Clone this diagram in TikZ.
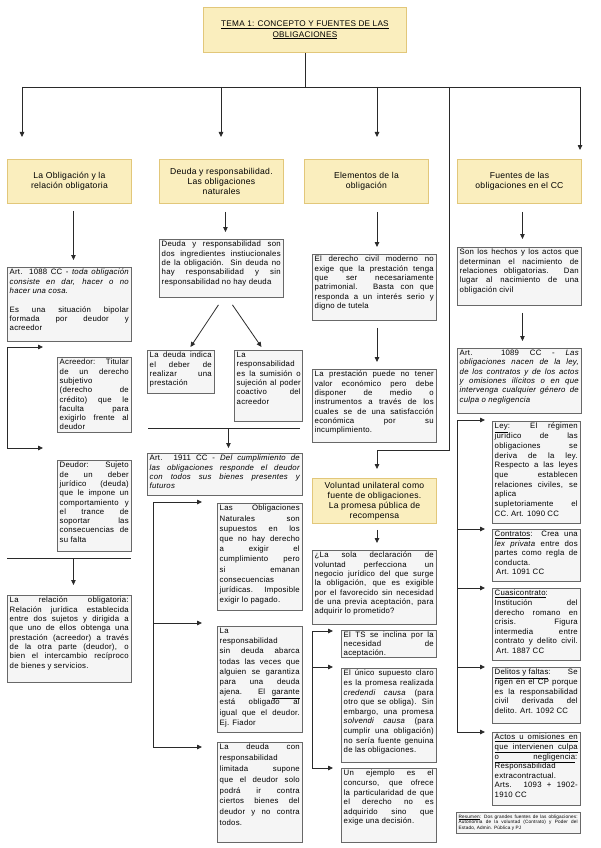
\documentclass[tikz,border=0pt]{standalone}
\usepackage{fontspec}
\setmainfont{Liberation Sans}[LetterSpace=3]
\usetikzlibrary{arrows.meta,calc}
\definecolor{ybf}{HTML}{FAEEBE}
\definecolor{ybd}{HTML}{E2C77A}
\definecolor{gbf}{HTML}{F5F5F5}
\definecolor{gbd}{HTML}{686868}
\definecolor{lnc}{HTML}{2A2A2A}
\newcommand\BR{\linebreak}
\newcommand\UL[1]{\underline{#1}}
\tolerance=10000 \hbadness=10000 \hfuzz=30pt \hyphenpenalty=10000 \exhyphenpenalty=10000 \parindent=0pt
\tikzset{
  gb/.style={anchor=north west, draw=gbd, fill=gbf, line width=0.9pt, inner sep=0pt},
  yb/.style={anchor=north west, draw=ybd, fill=ybf, line width=0.9pt, inner sep=1pt, align=center, font=\fontsize{8.6}{10}\selectfont},
  tx/.style={anchor=north west, inner sep=0pt, align=justify},
  ln/.style={draw=lnc, line width=0.8pt},
  arr/.style={ln, -{Triangle[length=5pt,width=4.5pt]}},
}
% name x y w h textwidth lead text
\newcommand\gtext[8]{%
  \node[gb, minimum width=#4, minimum height=#5] (#1) at (#2,#3) {};
  \node[tx, text width=#6, font=\fontsize{7.8}{#7}\selectfont] (#1t) at ($(#1.north west)+(2.5,2)$) {#8};}
\begin{document}
\begin{tikzpicture}[x=1pt,y=-1pt]
\fill[white] (0,0) rectangle (600,848);
\useasboundingbox (0,0) rectangle (600,848);

% title and headers
\node[yb, font=\fontsize{8.2}{10.5}\selectfont, minimum width=203, minimum height=45] (title) at (203,7) {\UL{TEMA 1: CONCEPTO Y FUENTES DE LAS}\\\UL{OBLIGACIONES}};
\node[yb, minimum width=124, minimum height=44] (y1) at (7,159) {La Obligación y la\\relación obligatoria};
\node[yb, minimum width=124, minimum height=44] (y2) at (159,159) {Deuda y responsabilidad.\\Las obligaciones\\naturales};
\node[yb, minimum width=124, minimum height=44] (y3) at (304,159) {Elementos de la\\obligación};
\node[yb, minimum width=124, minimum height=44] (y4) at (457,159) {Fuentes de las\\obligaciones en el CC};
\node[yb, minimum width=124, minimum height=45] (y5) at (312,478) {Voluntad unilateral como\\fuente de obligaciones.\\La promesa pública de\\recompensa};

% left column
\gtext{a1088}{7}{267}{124}{74}{119}{9.3}{Art. 1088 CC - \textit{toda obligación\BR consiste en dar, hacer o no\BR hacer una cosa.}\\[9.3pt]Es una situación bipolar\BR formada por deudor y\BR acreedor}
\gtext{acre}{57}{357}{74}{75}{69}{9.3}{Acreedor: Titular\BR de un derecho\BR subjetivo\BR (derecho de\BR crédito) que le\BR faculta para\BR exigirlo frente al\BR deudor}
\gtext{deud}{57}{460}{74}{91}{69}{9.3}{Deudor: Sujeto\BR de un deber\BR jurídico (deuda)\BR que le impone un\BR comportamiento y\BR el trance de\BR soportar las\BR consecuencias de\BR su falta}
\gtext{rel}{7}{595}{124}{87}{119}{9.3}{La relación obligatoria:\BR Relación jurídica establecida\BR entre dos sujetos y dirigida a\BR que uno de ellos obtenga una\BR prestación (acreedor) a través\BR de la otra parte (deudor), o\BR bien el intercambio recíproco\BR de bienes y servicios.}

% middle column
\gtext{deuda}{159}{239}{124}{58}{119}{9.3}{Deuda y responsabilidad son\BR dos ingredientes instiucionales\BR de la obligación. Sin deuda no\BR hay responsabilidad y sin\BR responsabilidad no hay deuda}
\gtext{ind}{147}{350}{67}{43}{62}{9.3}{La deuda indica\BR el deber de\BR realizar una\BR prestación}
\gtext{sum}{234}{350}{68}{71}{64}{9.3}{La\BR responsabilidad\BR es la sumisión o\BR sujeción al poder\BR coactivo del\BR acreedor}
\gtext{a1911}{147}{453}{155}{42}{150}{9.3}{Art. 1911 CC - \textit{Del cumplimiento de\BR las obligaciones responde el deudor\BR con todos sus bienes presentes y\BR futuros}}
\gtext{obn}{217}{503}{85}{107}{80}{10.2}{Las Obligaciones\BR Naturales son\BR supuestos en los\BR que no hay derecho\BR a exigir el\BR cumplimiento pero\BR si emanan\BR consecuencias\BR jurídicas. Imposible\BR exigir lo pagado.}
\gtext{sin}{217}{626}{85}{106}{80}{10.2}{La\BR responsabilidad\BR sin deuda abarca\BR todas las veces que\BR alguien se garantiza\BR para una deuda\BR ajena. El \UL{garante}\BR está obligado al\BR igual que el deudor.\BR Ej. Fiador}
\gtext{lim}{217}{742}{85}{100}{80}{10.8}{La deuda con\BR responsabilidad\BR limitada supone\BR que el deudor solo\BR podrá ir contra\BR ciertos bienes del\BR deudor y no contra\BR todos.}

% right-centre column
\gtext{dc}{312}{254}{124}{66}{119}{9.3}{El derecho civil moderno no\BR exige que la prestación tenga\BR que ser necesariamente\BR patrimonial. Basta con que\BR responda a un interés serio y\BR digno de tutela}
\gtext{pr}{312}{369}{124}{73}{119}{9.3}{La prestación puede no tener\BR valor económico pero debe\BR disponer de medio o\BR instrumentos a través de los\BR cuales se de una satisfacción\BR económica por su\BR incumplimiento.}
\gtext{sola}{312}{550}{124}{74}{119}{9.3}{¿La sola declaración de\BR voluntad perfecciona un\BR negocio jurídico del que surge\BR la obligación, que es exigible\BR por el favorecido sin necesidad\BR de una previa aceptación, para\BR adquirir lo prometido?}
\gtext{ts}{341}{630}{95}{27}{90}{8.6}{El TS se inclina por la\BR necesidad de\BR aceptación.}
\gtext{un}{341}{668}{95}{94}{90}{9.6}{El único supuesto claro\BR es la promesa realizada\BR \textit{credendi causa} (para\BR otro que se obliga). Sin\BR embargo, una promesa\BR \textit{solvendi causa} (para\BR cumplir una obligación)\BR no sería fuente genuina\BR de las obligaciones.}
\gtext{ej}{341}{768}{95}{74}{90}{9.6}{Un ejemplo es el\BR concurso, que ofrece\BR la particularidad de que\BR el derecho no es\BR adquirido sino que\BR exige una decisión.}

% right column
\gtext{son}{457}{247}{124}{58}{119}{9.3}{Son los hechos y los actos que\BR determinan el nacimiento de\BR relaciones obligatorias. Dan\BR lugar al nacimiento de una\BR obligación civil}
\gtext{a1089}{457}{348}{124}{65}{119}{9.3}{Art. 1089 CC - \textit{Las\BR obligaciones nacen de la ley,\BR de los contratos y de los actos\BR y omisiones ilícitos o en que\BR intervenga cualquier género de\BR culpa o negligencia}}
\gtext{ley}{492}{421}{88}{102}{83}{9.7}{\UL{Ley}: El régimen\BR jurídico de las\BR obligaciones se\BR deriva de la ley.\BR Respecto a las leyes\BR que establecen\BR relaciones civiles, se\BR aplica\BR supletoriamente el\BR CC. Art. 1090 CC}
\gtext{co}{492}{529}{88}{52}{83}{9.5}{\UL{Contratos}: Crea una\BR \textit{lex privata} entre dos\BR partes como regla de\BR conducta.\BR \hspace*{1.5pt}Art. 1091 CC}
\gtext{cu}{492}{588}{88}{72}{83}{9.6}{\UL{Cuasicontrato}:\BR Institución del\BR derecho romano en\BR crisis. Figura\BR intermedia entre\BR contrato y delito civil.\BR \hspace*{1.5pt}Art. 1887 CC}
\gtext{de}{492}{667}{88}{56}{83}{9.6}{\UL{Delitos y faltas}: Se\BR rigen en el CP porque\BR es la responsabilidad\BR civil derivada del\BR delito. Art. 1092 CC}
\gtext{ac}{492}{732}{88}{73}{83}{9.6}{\UL{\makebox[83pt][s]{Actos u omisiones en}}\BR \UL{\makebox[83pt][s]{que intervienen culpa}}\BR \UL{\makebox[80.5pt][s]{o negligencia}}:\BR Responsabilidad\BR extracontractual.\BR Arts. 1093 + 1902-\BR 1910 CC}
\node[gb, minimum width=124, minimum height=21] (res) at (456,812) {};
\node[tx, text width=119, font=\fontsize{4.7}{5.6}\selectfont] (rest) at ($(res.north west)+(2.5,2.5)$) {\UL{Resumen}: Dos grandes fuentes de las obligaciones:\BR Autonomía de la voluntad (Contrato) y Poder del\BR Estado, Admin. Pública y PJ};

% ---- connectors ----
\coordinate (hL) at (22,87);
\coordinate (hR) at (580,87);
\coordinate (d2) at (221,87);
\coordinate (d3) at (377,87);
\coordinate (d4) at (449,87);
\coordinate (d4b) at (449,450);
\coordinate (d4c) at (377,450);
\draw[ln] (title.south) -- (title.south |- hL);
\draw[ln] (hL) -- (hR);
\draw[arr] (hL) -- ++(0,50);
\draw[arr] (d2) -- ++(0,50);
\draw[arr] (d3) -- ++(0,50);
\draw[arr] (hR) -- ++(0,63);
\draw[arr] (d4) -- (d4b) -- (d4c) -- ++(0,19);

% left column
\draw[arr] ($(y1.south)+(4,7)$) -- ($(a1088.north)+(4,-7)$);
\coordinate (bk1a) at (7,347);
\coordinate (bk1b) at (7,448);
\draw[ln] (bk1a) -- (bk1b);
\draw[arr] (bk1a) -- ($(acre.west |- bk1a)+(-14,0)$);
\draw[arr] (bk1b) -- ($(deud.west |- bk1b)+(-14,0)$);
\coordinate (h5a) at (7,558);
\coordinate (h5b) at (131,558);
\draw[ln] (h5a) -- (h5b);
\draw[arr] ($(rel.north)+(4,-37)$) -- ($(rel.north)+(4,-10)$);

% middle column
\draw[arr] ($(y2.south)+(4,8)$) -- ($(deuda.north)+(4,-7)$);
\draw[arr] ($(deuda.south)+(-3,7)$) -- ($(ind.north)+(9.5,-3)$);
\draw[arr] ($(deuda.south)+(11,7)$) -- ($(sum.north)+(-7,-3)$);
\coordinate (m1) at (148,428);
\coordinate (m2) at (300,428);
\draw[ln] (m1) -- (m2);
\draw[arr] ($(a1911.north)+(3.5,-25)$) -- ($(a1911.north)+(3.5,-5)$);
\coordinate (b2a) at (153,502);
\coordinate (b2m) at (153,623);
\coordinate (b2b) at (153,747);
\draw[ln] (b2a) -- (b2b);
\draw[arr] (b2a) -- ($(obn.west |- b2a)+(-15,0)$);
\draw[arr] (b2m) -- ($(sin.west |- b2m)+(-15,0)$);
\draw[arr] (b2b) -- ($(lim.west |- b2b)+(-15,0)$);

% right-centre column
\draw[arr] ($(y3.south -| d3)+(0,8)$) -- ($(dc.north -| d3)+(0,-7)$);
\draw[arr] ($(dc.south -| d3)+(0,7)$) -- ($(pr.north -| d3)+(0,-7)$);
\draw[arr] ($(y5.south -| d3)+(0,6)$) -- ($(sola.north -| d3)+(0,-7)$);
\coordinate (b3a) at (312,631);
\coordinate (b3m) at (312,667);
\coordinate (b3b) at (312,768);
\draw[ln] (b3a) -- (b3b);
\draw[arr] (b3a) -- ($(ts.west |- b3a)+(-8,0)$);
\draw[arr] (b3m) -- ($(un.west |- b3m)+(-8,0)$);
\draw[arr] (b3b) -- ($(ej.west |- b3b)+(-8,0)$);

% right column
\draw[arr] ($(y4.south)+(3,8)$) -- ($(son.north)+(3,-8)$);
\draw[arr] ($(son.south)+(3,7)$) -- ($(a1089.north)+(3,-7)$);
\coordinate (b4a) at (457,420);
\coordinate (b4b) at (457,529);
\coordinate (b4c) at (457,588);
\coordinate (b4d) at (457,667);
\coordinate (b4e) at (457,732);
\draw[ln] (b4a) -- (b4e);
\draw[arr] (b4a) -- ($(ley.west |- b4a)+(-7,0)$);
\draw[arr] (b4b) -- ($(co.west |- b4b)+(-7,0)$);
\draw[arr] (b4c) -- ($(cu.west |- b4c)+(-7,0)$);
\draw[arr] (b4d) -- ($(de.west |- b4d)+(-7,0)$);
\draw[arr] (b4e) -- ($(ac.west |- b4e)+(-7,0)$);
\end{tikzpicture}
\end{document}
